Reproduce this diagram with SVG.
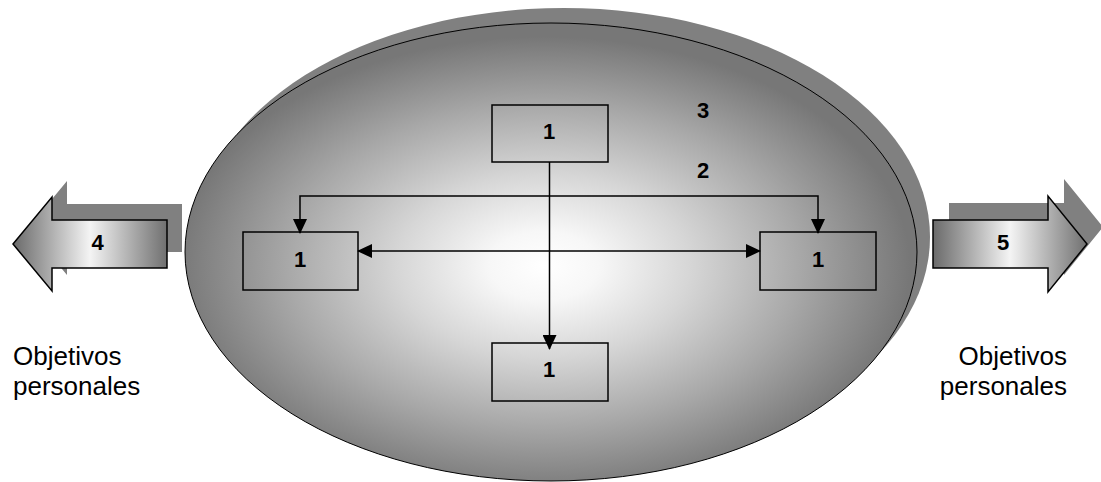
<svg xmlns="http://www.w3.org/2000/svg" width="1101" height="482" viewBox="0 0 1101 482">
<style>
.lbl{font-family:"Liberation Sans",Arial,sans-serif;font-weight:bold;font-size:22px;fill:#000;text-anchor:middle}
.obj{font-family:"Liberation Sans",Arial,sans-serif;font-size:26px;fill:#000}
.box{fill:none;stroke:#000;stroke-width:1.5}
.con{fill:none;stroke:#000;stroke-width:1.5}
.shadow{fill:#808080}
.arr{stroke:#000;stroke-width:1.5}
</style>
<defs>
<radialGradient id="gEll" cx="0.49" cy="0.53" r="0.5">
<stop offset="0" stop-color="#ffffff"/>
<stop offset="0.15" stop-color="#f7f7f7"/>
<stop offset="0.4" stop-color="#d6d6d6"/>
<stop offset="0.7" stop-color="#a8a8a8"/>
<stop offset="1" stop-color="#777777"/>
</radialGradient>
<linearGradient id="gArr" x1="0" y1="0" x2="1" y2="0">
<stop offset="0" stop-color="#6a6a6a"/>
<stop offset="0.5" stop-color="#f4f4f4"/>
<stop offset="1" stop-color="#707070"/>
</linearGradient>
<marker id="ah" markerUnits="userSpaceOnUse" markerWidth="15" markerHeight="14" viewBox="0 0 15 14" refX="14" refY="7" orient="auto-start-reverse">
<path d="M0,0 L15,7 L0,14 z" fill="#000"/>
</marker>
</defs>
<rect width="1101" height="482" fill="#fff"/>
<g id="cluster">
<ellipse class="shadow" cx="564" cy="237" rx="366" ry="229"/>
<ellipse cx="551" cy="252" rx="366" ry="229" fill="url(#gEll)" stroke="#000" stroke-width="1"/>
<text class="lbl" x="703" y="118" font-size="21">3</text>
<text class="lbl" x="703" y="178" font-size="21">2</text>
</g>
<g id="arrow4">
<polygon class="shadow" transform="translate(15,-16)" points="13,244 52,197 52,220 167,220 167,268 52,268 52,291"/>
<polygon class="arr" fill="url(#gArr)" points="13,244 52,197 52,220 167,220 167,268 52,268 52,291"/>
<text class="lbl" x="97.5" y="250" font-size="23">4</text>
</g>
<g id="arrow5">
<polygon class="shadow" transform="translate(16,-17)" points="933,220 1048,220 1048,196 1087,244 1048,292 1048,268 933,268"/>
<polygon class="arr" fill="url(#gArr)" points="933,220 1048,220 1048,196 1087,244 1048,292 1048,268 933,268"/>
<text class="lbl" x="1003" y="250" font-size="23">5</text>
</g>
<g id="box-top">
<rect class="box" x="492" y="105" width="116" height="57"/>
<text class="lbl" x="549" y="139">1</text>
</g>
<g id="box-left">
<rect class="box" x="243" y="232" width="115" height="58"/>
<text class="lbl" x="300" y="267">1</text>
</g>
<g id="box-right">
<rect class="box" x="760" y="232" width="116" height="58"/>
<text class="lbl" x="818" y="267">1</text>
</g>
<g id="box-bottom">
<rect class="box" x="492" y="343" width="116" height="58"/>
<text class="lbl" x="549" y="377">1</text>
</g>
<g id="connectors">
<path class="con" d="M549.5,162 V349" marker-end="url(#ah)"/>
<path class="con" d="M300,233 V196 H818 V233" marker-start="url(#ah)" marker-end="url(#ah)"/>
<path class="con" d="M358,251 H760" marker-start="url(#ah)" marker-end="url(#ah)"/>
</g>
<g id="text-left">
<text class="obj" x="13" y="365">Objetivos</text>
<text class="obj" x="13" y="395">personales</text>
</g>
<g id="text-right">
<text class="obj" x="1067" y="365" text-anchor="end">Objetivos</text>
<text class="obj" x="1067" y="395" text-anchor="end">personales</text>
</g>
</svg>
